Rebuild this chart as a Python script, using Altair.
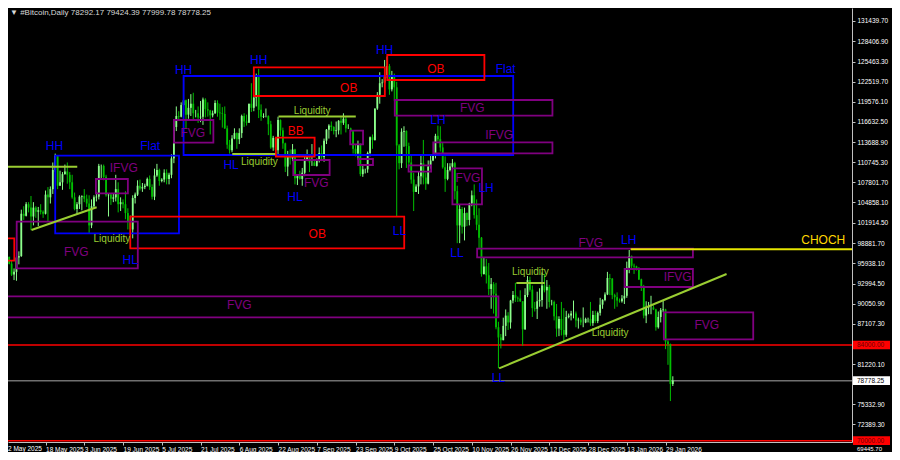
import json
import altair as alt
import pandas as pd

# ---------------- candle data (thousands of USD), one value per day from 2 May 2025 ----------------
opens = [
    96.5, 96.9, 95.9, 94.3, 94.7, 96.8, 97.0, 103.2, 102.9, 104.6, 104.1, 102.8, 104.1, 103.5, 103.7, 103.5, 103.2, 106.0, 105.6, 106.8, 109.6, 111.7, 107.3, 107.8, 109.0, 109.4, 108.9, 107.8, 105.6, 103.9,
    104.6, 105.7, 105.8, 105.4, 104.7, 101.5, 104.3, 105.6, 105.7, 110.2, 110.2, 108.6, 105.9, 106.0, 105.4, 105.6, 106.8, 104.6, 104.9, 104.6, 103.3, 102.1, 100.9, 105.5, 106.0, 107.3, 106.9, 107.1, 107.3, 108.3,
    107.1, 105.7, 108.8, 109.6, 108.0, 108.2, 109.2, 108.3, 108.9, 111.3, 115.9, 117.5, 117.4, 119.1, 119.8, 117.7, 118.7, 119.3, 117.9, 117.9, 117.3, 117.4, 119.9, 118.5, 118.3, 117.6, 117.9, 119.4, 118.0, 117.9, 117.8,
    115.7, 113.3, 112.5, 114.2, 115.0, 114.1, 115.0, 117.5, 116.7, 116.5, 119.3, 118.7, 120.2, 123.3, 118.4, 117.4, 117.5, 117.5, 116.3, 112.9, 114.3, 112.5, 116.9, 115.4, 113.5, 110.1, 111.8, 111.3, 112.6, 108.4, 108.8,
    108.3, 109.2, 111.2, 111.7, 110.7, 110.7, 110.2, 111.2, 112.1, 111.5, 113.9, 115.5, 116.1, 115.9, 115.3, 115.4, 116.8, 116.5, 117.1, 115.7, 115.7, 115.3, 112.7, 112.0, 113.3, 109.0, 109.7, 109.7, 112.1, 114.4,
    114.0, 118.6, 120.6, 122.3, 122.4, 123.5, 124.8, 121.4, 123.3, 121.7, 113.2, 110.6, 115.2, 115.3, 113.1, 110.7, 108.2, 106.4, 107.2, 108.7, 110.6, 108.5, 107.6, 110.1, 111.0, 111.7, 114.6, 114.1, 112.9, 110.0, 108.3,
    109.6, 110.1, 110.6, 106.5, 101.5, 103.9, 101.3, 103.3, 102.3, 104.7, 105.9, 103.0, 101.6, 99.7, 94.4, 95.5, 94.2, 92.2, 92.9, 91.5, 86.6, 85.1, 84.7, 86.8, 88.3, 87.3, 90.5, 91.3, 90.9, 90.8,
    90.4, 86.3, 91.3, 93.5, 92.1, 89.4, 89.3, 90.4, 90.6, 92.7, 92.0, 92.5, 90.3, 90.3, 88.2, 86.4, 87.8, 86.2, 85.5, 88.1, 88.3, 88.6, 88.6, 87.6, 87.7, 87.3, 87.3, 87.8, 87.8, 87.2, 88.4,
    87.5, 88.7, 89.9, 90.6, 91.4, 93.8, 93.7, 91.3, 91.0, 90.5, 90.4, 90.8, 91.2, 95.3, 97.0, 95.6, 95.5, 95.1, 93.6, 92.6, 88.3, 89.4, 89.5, 89.5, 89.2, 86.6, 88.1, 89.1, 89.2, 84.5, 84.1,
    78.29217,
]
highs = [
    97.9, 96.9, 96.3, 95.2, 96.9, 97.7, 103.8, 104.3, 104.9, 104.9, 105.8, 104.9, 104.3, 104.2, 104.6, 103.7, 106.6, 107.1, 107.2, 110.7, 112.0, 111.8, 109.5, 109.3, 110.4, 110.7, 109.3, 108.9, 106.3, 104.9,
    105.9, 105.9, 106.8, 106.0, 105.9, 105.3, 105.9, 106.4, 110.5, 110.4, 110.4, 108.9, 106.2, 106.2, 106.1, 108.9, 107.8, 105.6, 105.3, 106.5, 104.0, 103.0, 105.9, 106.3, 108.1, 108.2, 107.7, 107.6, 108.5, 108.8,
    107.5, 109.8, 110.5, 109.8, 108.4, 109.7, 109.7, 109.2, 111.9, 116.8, 118.9, 118.2, 119.5, 123.2, 119.9, 120.0, 120.7, 120.9, 118.4, 118.9, 119.7, 120.2, 120.1, 119.5, 118.4, 118.3, 119.8, 119.8, 119.3, 118.8, 118.9,
    116.1, 114.0, 114.7, 115.7, 115.1, 115.7, 117.7, 117.9, 117.7, 119.3, 122.3, 120.3, 123.7, 124.4, 119.2, 117.9, 118.6, 117.6, 116.8, 114.6, 114.4, 117.4, 117.0, 115.8, 113.6, 112.4, 112.6, 113.4, 112.7, 108.9, 109.5,
    109.9, 111.8, 112.6, 111.8, 113.4, 111.2, 111.3, 112.9, 113.2, 114.2, 115.6, 116.3, 116.7, 116.0, 116.7, 116.9, 117.3, 117.9, 117.5, 116.3, 115.8, 115.4, 113.3, 113.9, 113.5, 110.3, 109.8, 112.3, 114.5, 114.8,
    118.6, 121.0, 123.9, 122.9, 125.7, 126.2, 125.1, 124.1, 123.7, 122.5, 113.4, 115.7, 116.0, 115.4, 113.6, 111.9, 109.2, 107.5, 109.4, 111.7, 114.0, 109.2, 111.0, 111.9, 111.8, 114.9, 116.1, 116.0, 113.6, 111.6, 110.6,
    110.6, 111.2, 110.8, 107.3, 104.5, 104.2, 104.1, 103.4, 104.8, 106.6, 107.5, 105.3, 104.0, 99.8, 96.8, 96.6, 96.0, 93.8, 93.2, 93.1, 87.4, 85.6, 88.0, 89.2, 88.8, 90.6, 91.9, 93.1, 91.1, 92.0,
    90.4, 92.3, 94.1, 94.0, 92.7, 90.3, 91.8, 92.3, 94.6, 94.4, 93.5, 92.8, 90.6, 90.5, 90.0, 88.2, 90.3, 89.4, 89.0, 88.6, 89.0, 90.5, 88.9, 88.0, 88.0, 89.5, 88.0, 88.0, 90.3, 89.0, 89.0,
    88.9, 90.9, 90.7, 91.7, 94.7, 94.4, 93.8, 91.5, 91.7, 90.8, 91.3, 92.4, 96.2, 97.9, 97.1, 95.9, 95.6, 95.4, 93.7, 92.8, 90.4, 90.3, 91.2, 89.8, 89.3, 88.9, 89.4, 90.5, 89.3, 84.7, 84.2,
    79.42439,
]
lows = [
    96.3, 95.8, 94.1, 93.5, 93.4, 95.8, 96.9, 102.3, 102.8, 103.4, 100.8, 101.5, 102.6, 101.4, 103.1, 102.6, 103.1, 102.0, 104.7, 106.1, 109.3, 106.8, 107.3, 106.7, 108.9, 107.6, 106.8, 105.4, 103.7, 103.1,
    103.9, 103.7, 104.9, 104.2, 100.4, 101.1, 103.9, 105.0, 105.3, 108.4, 108.1, 105.7, 102.8, 104.5, 104.9, 105.0, 103.4, 103.6, 104.0, 102.4, 100.9, 98.2, 99.6, 104.7, 105.8, 106.6, 106.4, 106.8, 107.2, 106.7,
    105.3, 105.2, 108.6, 107.3, 107.8, 107.8, 107.5, 107.5, 108.4, 110.6, 115.3, 116.9, 117.3, 118.9, 115.7, 117.1, 117.5, 116.8, 117.3, 116.5, 116.6, 116.2, 117.3, 117.4, 114.8, 117.3, 117.8, 117.4, 116.9, 115.8, 115.6,
    112.7, 112.0, 112.2, 114.1, 112.7, 113.4, 114.3, 115.9, 116.1, 116.5, 118.1, 118.2, 118.9, 117.2, 116.8, 117.2, 117.3, 114.7, 112.7, 112.4, 112.4, 111.7, 114.6, 112.7, 109.3, 108.7, 110.4, 110.9, 107.5, 107.4, 108.2,
    107.3, 108.7, 110.9, 109.3, 110.2, 110.2, 110.1, 110.7, 110.9, 110.8, 113.4, 114.2, 115.3, 114.8, 114.4, 114.8, 114.8, 116.2, 115.1, 115.6, 115.2, 112.0, 111.6, 111.1, 108.7, 108.6, 109.1, 109.2, 111.6, 112.7,
    113.9, 118.4, 119.3, 121.7, 122.1, 123.1, 120.6, 121.1, 119.7, 102.8, 109.7, 109.9, 113.0, 109.9, 110.2, 107.6, 103.6, 106.4, 106.1, 107.5, 107.5, 106.7, 107.5, 109.8, 110.9, 111.3, 113.8, 112.3, 109.8, 106.4, 108.1,
    109.4, 109.9, 105.3, 98.9, 98.9, 100.3, 99.3, 101.4, 101.5, 104.3, 102.5, 100.8, 98.0, 94.0, 94.3, 93.0, 91.3, 89.3, 88.6, 86.3, 80.6, 83.5, 84.7, 85.3, 86.2, 86.4, 90.1, 90.3, 90.3, 90.3,
    83.9, 86.2, 91.0, 91.8, 88.1, 88.9, 87.8, 89.6, 89.6, 91.7, 89.3, 89.5, 89.8, 87.6, 85.2, 85.3, 85.4, 84.5, 85.2, 87.9, 87.6, 87.9, 86.6, 86.4, 86.9, 86.6, 87.2, 87.3, 86.8, 86.8, 87.2,
    87.2, 88.3, 89.3, 90.4, 91.3, 91.3, 90.7, 89.3, 89.6, 90.2, 90.2, 90.0, 90.9, 94.5, 95.1, 94.4, 94.9, 93.5, 91.9, 87.9, 87.2, 88.5, 88.5, 89.1, 86.1, 86.4, 87.3, 88.8, 83.4, 81.1, 75.8,
    77.99978,
]
closes = [
    96.9, 95.9, 94.3, 94.7, 96.8, 97.0, 103.2, 102.9, 104.6, 104.1, 102.8, 104.1, 103.5, 103.7, 103.5, 103.2, 106.0, 105.6, 106.8, 109.6, 111.7, 107.3, 107.8, 109.0, 109.4, 108.9, 107.8, 105.6, 103.9, 104.6,
    105.7, 105.8, 105.4, 104.7, 101.5, 104.3, 105.6, 105.7, 110.2, 110.2, 108.6, 105.9, 106.0, 105.4, 105.6, 106.8, 104.6, 104.9, 104.6, 103.3, 102.1, 100.9, 105.5, 106.0, 107.3, 106.9, 107.1, 107.3, 108.3, 107.1,
    105.7, 108.8, 109.6, 108.0, 108.2, 109.2, 108.3, 108.9, 111.3, 115.9, 117.5, 117.4, 119.1, 119.8, 117.7, 118.7, 119.3, 117.9, 117.9, 117.3, 117.4, 119.9, 118.5, 118.3, 117.6, 117.9, 119.4, 118.0, 117.9, 117.8, 115.7,
    113.3, 112.5, 114.2, 115.0, 114.1, 115.0, 117.5, 116.7, 116.5, 119.3, 118.7, 120.2, 123.3, 118.4, 117.4, 117.5, 117.5, 116.3, 112.9, 114.3, 112.5, 116.9, 115.4, 113.5, 110.1, 111.8, 111.3, 112.6, 108.4, 108.8, 108.3,
    109.2, 111.2, 111.7, 110.7, 110.7, 110.2, 111.2, 112.1, 111.5, 113.9, 115.5, 116.1, 115.9, 115.3, 115.4, 116.8, 116.5, 117.1, 115.7, 115.7, 115.3, 112.7, 112.0, 113.3, 109.0, 109.7, 109.7, 112.1, 114.4, 114.0,
    118.6, 120.6, 122.3, 122.4, 123.5, 124.8, 121.4, 123.3, 121.7, 113.2, 110.6, 115.2, 115.3, 113.1, 110.7, 108.2, 106.4, 107.2, 108.7, 110.6, 108.5, 107.6, 110.1, 111.0, 111.7, 114.6, 114.1, 112.9, 110.0, 108.3, 109.6,
    110.1, 110.6, 106.5, 101.5, 103.9, 101.3, 103.3, 102.3, 104.7, 105.9, 103.0, 101.6, 99.7, 94.4, 95.5, 94.2, 92.2, 92.9, 91.5, 86.6, 85.1, 84.7, 86.8, 88.3, 87.3, 90.5, 91.3, 90.9, 90.8, 90.4,
    86.3, 91.3, 93.5, 92.1, 89.4, 89.3, 90.4, 90.6, 92.7, 92.0, 92.5, 90.3, 90.3, 88.2, 86.4, 87.8, 86.2, 85.5, 88.1, 88.3, 88.6, 88.6, 87.6, 87.7, 87.3, 87.3, 87.8, 87.8, 87.2, 88.4, 87.5,
    88.7, 89.9, 90.6, 91.4, 93.8, 93.7, 91.3, 91.0, 90.5, 90.4, 90.8, 91.2, 95.3, 97.0, 95.6, 95.5, 95.1, 93.6, 92.6, 88.3, 89.4, 89.5, 89.5, 89.2, 86.6, 88.1, 89.1, 89.2, 84.5, 84.1, 78.3,
    78.77825,
]

# ---------------- axes ----------------
date_ticks = [0, 16, 32, 48, 64, 80, 96, 112, 128, 144, 160, 176, 192, 208, 224, 240, 256, 272]
date_labels = ["2 May 2025", "18 May 2025", "3 Jun 2025", "19 Jun 2025", "5 Jul 2025", "21 Jul 2025",
               "6 Aug 2025", "22 Aug 2025", "7 Sep 2025", "23 Sep 2025", "9 Oct 2025", "25 Oct 2025",
               "10 Nov 2025", "26 Nov 2025", "12 Dec 2025", "28 Dec 2025", "13 Jan 2026", "29 Jan 2026"]
price_ticks = [131439.70, 128406.90, 125463.30, 122519.70, 119576.10, 116632.50, 113688.90, 110745.30,
               107801.70, 104858.10, 101914.50, 98881.70, 95938.10, 92994.50, 90050.90, 87107.30,
               81220.10, 75332.90, 72389.30]
bottom_price_label = "69445.70"
title_text = "▼  #Bitcoin,Daily  78292.17 79424.39 77999.78 78778.25"

# price level lines: (price, label, line colour, box colour, text colour)
levels = [(84000.00, "84000.00", "#ff0000", "#ff0000", "#6a0000"),
          (78778.25, "78778.25", "#707070", "#ffffff", "#000000"),
          (70000.00, "70000.00", "#ff0000", "#ff0000", "#6a0000")]

# ---------------- annotations (day index, price) ----------------
BLUE, RED, PURPLE, LIQ, GOLD = "#0000ff", "#ff0000", "#800080", "#9acd32", "#ffd700"
boxes = [
    (20.0, 71.1, 111694, 100342, BLUE), (73.0, 209.1, 123355, 111797, BLUE),
    (-0.7, 3.1, 99610, 96333, RED), (51.0, 164.1, 102770, 98147, RED),
    (102.0, 156.1, 124628, 120429, RED), (157.1, 197.2, 126427, 122770, RED),
    (111.1, 127.1, 114328, 111548, RED),
    (4.1, 54.1, 102039, 95221, PURPLE), (36.8, 50.0, 108286, 106194, PURPLE),
    (69.0, 85.3, 116918, 113597, PURPLE), (118.3, 133.3, 111066, 108871, PURPLE),
    (141.8, 147.1, 115352, 113362, PURPLE), (145.1, 151.2, 111212, 110334, PURPLE),
    (160.2, 225.3, 119844, 117547, PURPLE), (176.1, 225.3, 113655, 112046, PURPLE),
    (165.9, 175.2, 110290, 109354, PURPLE), (184.0, 196.2, 109851, 104584, PURPLE),
    (-0.7, 203.0, 91125, 88053, PURPLE), (194.2, 283.3, 98089, 96831, PURPLE),
    (255.1, 283.3, 95119, 92485, PURPLE), (271.3, 308.2, 88784, 84834, PURPLE),
]
segments = [
    (-0.7, 110085, 29.1, 110085, LIQ), (10.2, 100825, 37.1, 104146, LIQ),
    (112.2, 117430, 144.1, 117430, LIQ), (93.1, 111943, 110.8, 111943, LIQ),
    (203.3, 80591, 297.2, 94387, LIQ), (210.4, 93071, 222.1, 93071, LIQ),
    (257.6, 98001, 352.6, 98001, "#e6e600"),
]
labels = [
    (19.7, 113114, "HH", BLUE, 12), (59.2, 113114, "Flat", BLUE, 12), (51.0, 96500, "HL", BLUE, 12),
    (73.0, 124233, "HH", BLUE, 12), (104.0, 125696, "HH", BLUE, 12), (92.6, 110334, "HL", BLUE, 12),
    (119.0, 105696, "HL", BLUE, 12), (156.0, 127159, "HH", BLUE, 12), (206.0, 124335, "Flat", BLUE, 12),
    (178.0, 116918, "LH", BLUE, 12), (162.1, 100722, "LL", BLUE, 12), (197.9, 106925, "LH", BLUE, 12),
    (185.9, 97416, "LL", BLUE, 12), (203.0, 79128, "LL", BLUE, 12), (256.8, 99362, "LH", BLUE, 12),
    (141.2, 121643, "OB", RED, 12), (177.2, 124335, "OB", RED, 12), (128.2, 100239, "OB", RED, 12),
    (119.3, 115308, "BB", RED, 12),
    (28.7, 97650, "FVG", PURPLE, 12), (48.3, 109851, "IFVG", PURPLE, 12), (76.8, 114943, "FVG", PURPLE, 12),
    (127.8, 107657, "FVG", PURPLE, 12), (192.2, 118746, "FVG", PURPLE, 12), (203.3, 114723, "IFVG", PURPLE, 12),
    (190.4, 108388, "FVG", PURPLE, 12), (96.0, 89852, "FVG", PURPLE, 12), (241.1, 98967, "FVG", PURPLE, 12),
    (277.0, 93905, "IFVG", PURPLE, 12), (289.0, 86926, "FVG", PURPLE, 12),
    (43.4, 99464, "Liquidity", LIQ, 10), (126.1, 118278, "Liquidity", LIQ, 10),
    (104.3, 110700, "Liquidity", LIQ, 10), (216.2, 94680, "Liquidity", LIQ, 10),
    (249.1, 85712, "Liquidity", LIQ, 10),
    (337.1, 99362, "CHOCH", GOLD, 12),
]

# ---------------- layout ----------------
W, H = 844, 434
X_DOM = [2.57, 346.92]
Y_DOM = [69809, 133303]
FONT = "Liberation Sans"
AXIS_GREY = "#c0c0c0"
UP_BODY, DOWN_BODY = "#8cff8c", "#00c000"

cdf = pd.DataFrame({"i": list(range(len(closes))),
                    "o": [v * 1000 for v in opens], "h": [v * 1000 for v in highs],
                    "l": [v * 1000 for v in lows], "c": [v * 1000 for v in closes]})
cdf["col"] = [UP_BODY if c >= o else DOWN_BODY for o, c in zip(cdf["o"], cdf["c"])]

xs = alt.Scale(domain=X_DOM, nice=False, zero=False)
ys = alt.Scale(domain=Y_DOM, nice=False, zero=False)

x_axis = alt.Axis(values=date_ticks, labelExpr=f"{json.dumps(date_labels)}[round(datum.value/16)]",
                  title=None, grid=False, labelAlign="left", labelBaseline="top", labelColor="#ffffff",
                  labelFont=FONT, labelFontSize=6.5, tickColor=AXIS_GREY, domainColor=AXIS_GREY,
                  tickSize=3, labelPadding=1, labelOverlap=False, labelFlush=False)
y_axis = alt.Axis(values=price_ticks, format=".2f", orient="right", title=None, grid=False,
                  labelAlign="left", labelBaseline="middle", labelColor="#ffffff", labelFont=FONT,
                  labelFontSize=6.5, tickColor=AXIS_GREY, domainColor=AXIS_GREY, tickSize=3,
                  labelPadding=2, labelOverlap=False, labelFlush=False, labelSeparation=0)


def X(field):
    return alt.X(field, scale=xs, axis=x_axis)


def Y(field):
    return alt.Y(field, scale=ys, axis=y_axis)


wicks = alt.Chart(cdf).mark_rule(strokeWidth=1, clip=True).encode(
    x=X("i:Q"), y=Y("l:Q"), y2="h:Q", color=alt.Color("col:N", scale=None))
bodies = alt.Chart(cdf).mark_bar(width=1.8, clip=True).encode(
    x=X("i:Q"), y=Y("o:Q"), y2="c:Q", color=alt.Color("col:N", scale=None))

bdf = pd.DataFrame(boxes, columns=["x0", "x1", "y0", "y1", "col"])
box_layer = alt.Chart(bdf).mark_rect(fillOpacity=0, strokeWidth=1.8, clip=True).encode(
    x=X("x0:Q"), x2="x1:Q", y=Y("y0:Q"), y2="y1:Q", stroke=alt.Stroke("col:N", scale=None))

sdf = pd.DataFrame(segments, columns=["x0", "y0", "x1", "y1", "col"])
seg_layer = alt.Chart(sdf).mark_rule(strokeWidth=2, clip=True).encode(
    x=X("x0:Q"), x2="x1:Q", y=Y("y0:Q"), y2="y1:Q", color=alt.Color("col:N", scale=None))

ldf = pd.DataFrame(levels, columns=["p", "txt", "line", "box", "tcol"])
level_lines = alt.Chart(ldf).mark_rule(strokeWidth=1.5, clip=True).encode(
    y=Y("p:Q"), color=alt.Color("line:N", scale=None))
level_boxes = alt.Chart(ldf).transform_calculate(
    lo="datum.p - 640", hi="datum.p + 640").mark_rect(clip=False).encode(
    x=alt.value(W + 1), x2=alt.value(W + 38), y=Y("lo:Q"), y2="hi:Q",
    color=alt.Color("box:N", scale=None))
level_text = alt.Chart(ldf).mark_text(align="left", baseline="middle", font=FONT, fontSize=6.5,
                                      clip=False).encode(
    x=alt.value(W + 5), y=Y("p:Q"), text="txt:N", color=alt.Color("tcol:N", scale=None))

tdf = pd.DataFrame(labels, columns=["x", "y", "txt", "col", "fs"])
text_layer = alt.Chart(tdf).mark_text(align="center", baseline="middle", font=FONT).encode(
    x=X("x:Q"), y=Y("y:Q"), text="txt:N",
    color=alt.Color("col:N", scale=None), size=alt.Size("fs:Q", scale=None))

head = alt.Chart(pd.DataFrame({"t": [title_text]})).mark_text(
    align="left", baseline="top", font=FONT, fontSize=8, color="#d8d8d8").encode(
    x=alt.value(2), y=alt.value(1), text="t:N")
first_date = alt.Chart(pd.DataFrame({"t": [date_labels[0]]})).mark_text(
    align="left", baseline="top", font=FONT, fontSize=6.5, color="#ffffff", clip=False).encode(
    x=alt.value(0), y=alt.value(H + 4), text="t:N")
bottom_price = alt.Chart(pd.DataFrame({"t": [bottom_price_label]})).mark_text(
    align="left", baseline="middle", font=FONT, fontSize=6, color="#ffffff", clip=False).encode(
    x=alt.value(W + 5), y=alt.value(H + 7), text="t:N")

chart = alt.layer(
    level_lines, wicks, bodies, box_layer, seg_layer, text_layer, level_boxes, level_text, head,
    first_date, bottom_price
).properties(
    width=W, height=H, background="#000000",
    padding={"left": 0, "top": 0, "right": 40, "bottom": 10},
    autosize=alt.AutoSizeParams(type="none"),
).configure_view(stroke=None).configure_axis(labelOverlap=False, labelFlush=False)

chart.save("out.html", embed_options={"renderer": "svg", "actions": False})
